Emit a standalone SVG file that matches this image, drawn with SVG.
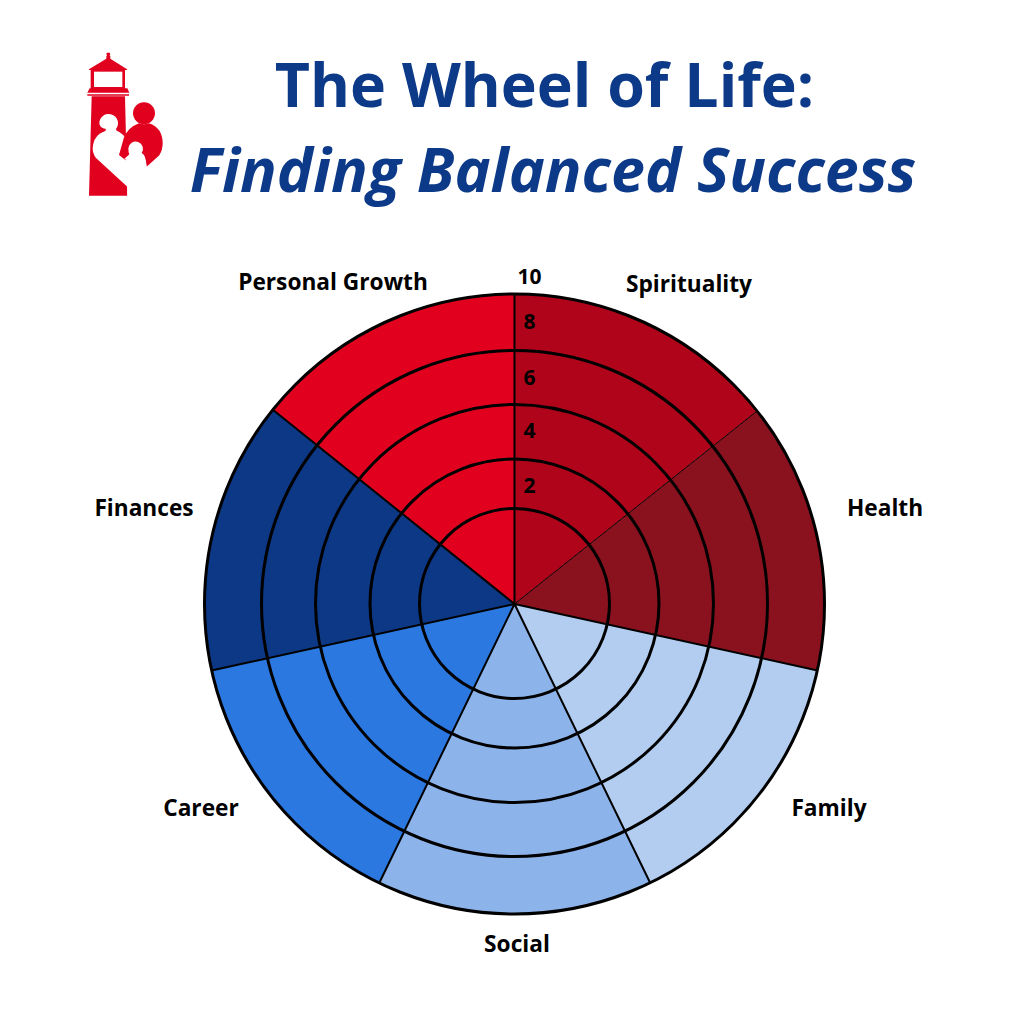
<svg xmlns="http://www.w3.org/2000/svg" width="1024" height="1024" viewBox="0 0 1024 1024">
<style>
text{font-family:"Open Sans","Noto Sans",sans-serif;font-weight:700;fill:#000}
.t{fill:#0c3a88;font-size:60.9px;text-anchor:middle}
.l{font-size:22.7px;text-anchor:middle}
.n{font-size:21px;text-anchor:middle}
.s{stroke:#000;stroke-width:2}
.r{fill:none;stroke:#000;stroke-width:3}
.m{fill:#e2001f}
.w{fill:#fff}
</style>
<rect width="1024" height="1024" fill="#fff"/>
<g id="logo" transform="translate(70 40) scale(.33333)">
<path class="m" d="M111 38h8l2 4-2 5 2 2v7l49 31 2 3H56l2-3 51-31v-7l2-2-2-5zM62 90h103v55h7l6 13H52l7-13h3zM52 163h125v4H52zM65 169h100l7 298H57z"/>
<rect class="w" x="72" y="95" width="85" height="46"/>
<path class="w" d="M88 250a28 28 0 1 1 50 17l2 5q16 6 32 26l8 180H172v-38L78 354Q68 342 68 325q2-40 38-52l2-6q-20-3-20-17z"/>
<circle class="m" cx="222" cy="220" r="33"/>
<path class="m" d="M147 345L162 292Q175 262 207 250q15 6 30 0q41 14 41 60q0 20-10 36l-38 34-8-34-50 12-5 3z"/>
<path class="w" d="M175 325a22 22 0 1 1 40 14q13 6 15 41l-20 20h-28v-35q-5-5-20-7l16-15q-3-5-3-18z"/>
</g>
<g id="title">
<text class="t" x="544.500" y="107">The Wheel of Life:</text>
<text class="t" x="553" y="192" font-style="italic">Finding Balanced Success</text>
</g>
<g id="wheel">
<path id="spirituality" fill="#b0041b" d="M514.500 604V294A310 310 0 0 1 756.500 411.500Z"/>
<path id="health" fill="#8a121f" d="M514.500 604L756.500 411.500A310 310 0 0 1 817.500 670.500Z"/>
<path id="family" fill="#b2cdef" d="M514.500 604L817.500 670.500A310 310 0 0 1 650 882.500Z"/>
<path id="social" fill="#8db4ea" d="M514.500 604L650 882.500A310 310 0 0 1 379.500 882.500Z"/>
<path id="career" fill="#2a78e0" d="M514.500 604L379.500 882.500A310 310 0 0 1 211.500 670.500Z"/>
<path id="finances" fill="#0c3885" d="M514.500 604L211.500 670.500A310 310 0 0 1 272.500 409.500Z"/>
<path id="growth" fill="#e2001f" d="M514.500 604L272.500 409.500A310 310 0 0 1 514.500 294Z"/>
</g>
<g id="connectors">
<path class="s" d="M514.500 604V294M514.500 604L817.500 670.500M514.500 604L650 882.500M514.500 604L379.500 882.500M514.500 604L211.500 670.500M514.500 604L272.500 409.500"/>
<path d="M514.500 604L756.500 411.500" stroke="#000" stroke-width="1"/>
<circle class="r" cx="514.500" cy="603.500" r="95"/>
<circle class="r" cx="514.500" cy="603.500" r="144.500"/>
<circle class="r" cx="514.500" cy="603.500" r="199"/>
<circle class="r" cx="514.500" cy="603.500" r="253"/>
<circle class="r" cx="514.500" cy="604" r="310"/>
</g>
<g id="labels">
<text class="l" x="333" y="290">Personal Growth</text>
<text class="l" x="689" y="292">Spirituality</text>
<text class="l" x="885" y="516">Health</text>
<text class="l" x="829" y="816">Family</text>
<text class="l" x="517" y="952">Social</text>
<text class="l" x="201" y="816">Career</text>
<text class="l" x="144" y="516">Finances</text>
</g>
<g id="scale">
<text class="n" x="529.500" y="284">10</text>
<text class="n" x="529.500" y="329">8</text>
<text class="n" x="529.500" y="385">6</text>
<text class="n" x="529.500" y="438">4</text>
<text class="n" x="529.500" y="493">2</text>
</g>
</svg>
